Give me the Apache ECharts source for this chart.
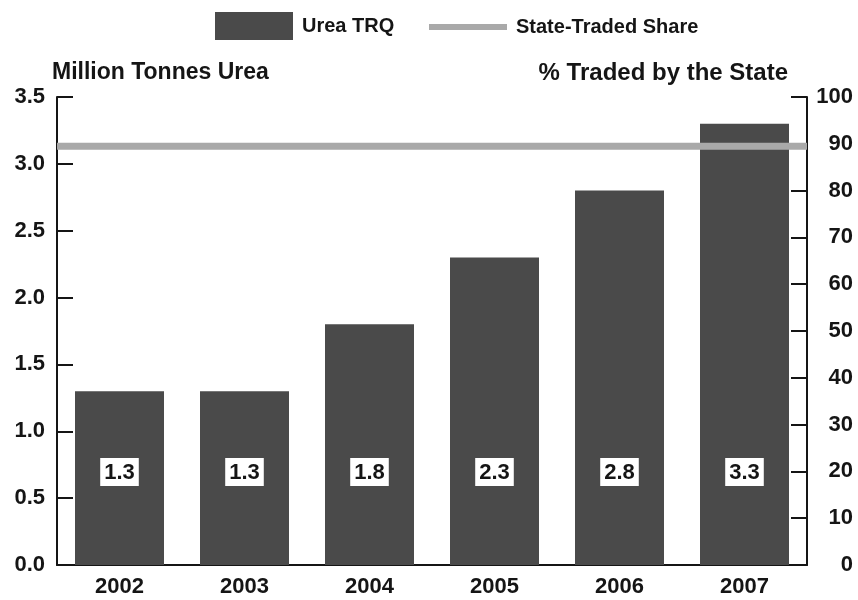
<!DOCTYPE html>
<html>
<head>
<meta charset="utf-8">
<script src="https://cdn.jsdelivr.net/npm/echarts@6/dist/echarts.min.js"></script>
<style>html,body{margin:0;padding:0;background:#fff}#c{width:858px;height:600px}</style>
</head>
<body>
<div id="c"></div>
<script>
var years = ['2002', '2003', '2004', '2005', '2006', '2007'];
var ureaTRQ = [1.3, 1.3, 1.8, 2.3, 2.8, 3.3];
var stateShare = [89.5, 89.5, 89.5, 89.5, 89.5, 89.5];
var leftTicks = {min: 0, max: 3.5, interval: 0.5};
var rightTicks = {min: 0, max: 100, interval: 10};

var FONT = 'Liberation Sans, Arial, sans-serif';
var INK = '#151515';
var chart = echarts.init(document.getElementById('c'), null, {renderer: 'canvas'});
chart.setOption({
  animation: false,
  backgroundColor: '#ffffff',
  textStyle: {fontFamily: FONT},
  grid: {left: 57, right: 51, top: 97, bottom: 35, containLabel: false},
  legend: [
    {
      left: 210, top: 7, padding: 5,
      itemWidth: 78, itemHeight: 28,
      textStyle: {fontFamily: FONT, fontSize: 20, fontWeight: 'bold', color: INK, padding: [2, 0, 0, 4]},
      data: [{name: 'Urea TRQ', icon: 'rect'}]
    },
    {
      left: 424, top: 12, padding: 5,
      itemWidth: 78, itemHeight: 6,
      textStyle: {fontFamily: FONT, fontSize: 20, fontWeight: 'bold', color: INK, padding: [0, 0, 0, 4]},
      data: [{name: 'State-Traded Share', icon: 'rect', itemStyle: {color: '#a9a9a9'}}]
    }
  ],
  xAxis: [
    {
      type: 'category', data: years, boundaryGap: true,
      axisLine: {show: true, lineStyle: {color: INK, width: 2}},
      axisTick: {show: false},
      axisLabel: {fontFamily: FONT, fontSize: 22, fontWeight: 'bold', color: INK, margin: 11}
    },
    {
      type: 'category', data: years, boundaryGap: false, show: false
    }
  ],
  yAxis: [
    {
      type: 'value', min: leftTicks.min, max: leftTicks.max, interval: leftTicks.interval,
      name: 'Million Tonnes Urea', nameLocation: 'end', nameGap: 24,
      nameTextStyle: {fontFamily: FONT, fontSize: 23, fontWeight: 'bold', color: INK, align: 'left', verticalAlign: 'middle', padding: [0, 0, 0, -5]},
      axisLine: {show: true, lineStyle: {color: INK, width: 2}},
      axisTick: {show: true, inside: true, length: 16, lineStyle: {color: INK, width: 2}},
      axisLabel: {fontFamily: FONT, fontSize: 22, fontWeight: 'bold', color: INK, margin: 12,
        formatter: function (v) { return v.toFixed(1); }},
      splitLine: {show: false}
    },
    {
      type: 'value', position: 'right', min: rightTicks.min, max: rightTicks.max, interval: rightTicks.interval,
      name: '% Traded by the State', nameLocation: 'end', nameGap: 24,
      nameTextStyle: {fontFamily: FONT, fontSize: 24, fontWeight: 'bold', color: INK, align: 'right', verticalAlign: 'middle', padding: [0, 19, 0, 0]},
      axisLine: {show: true, lineStyle: {color: INK, width: 2}},
      axisTick: {show: true, inside: true, length: 16, lineStyle: {color: INK, width: 2}},
      axisLabel: {fontFamily: FONT, fontSize: 22, fontWeight: 'bold', color: INK, margin: 46, align: 'right'},
      splitLine: {show: false}
    }
  ],
  series: [
    {
      name: 'Urea TRQ', type: 'bar', xAxisIndex: 0, yAxisIndex: 0,
      data: ureaTRQ, barWidth: 89,
      itemStyle: {color: '#4a4a4a'},
      label: {
        show: true, position: 'insideBottom', distance: 79,
        backgroundColor: '#ffffff', padding: [4, 4, 2, 4],
        fontFamily: FONT, fontSize: 22, fontWeight: 'bold', color: INK,
        formatter: function (p) { return p.value.toFixed(1); }
      }
    },
    {
      name: 'State-Traded Share', type: 'line', xAxisIndex: 1, yAxisIndex: 1,
      data: stateShare, symbol: 'none', z: 5,
      lineStyle: {color: '#a9a9a9', width: 7},
      itemStyle: {color: '#a9a9a9'}
    }
  ]
});
</script>
</body>
</html>
